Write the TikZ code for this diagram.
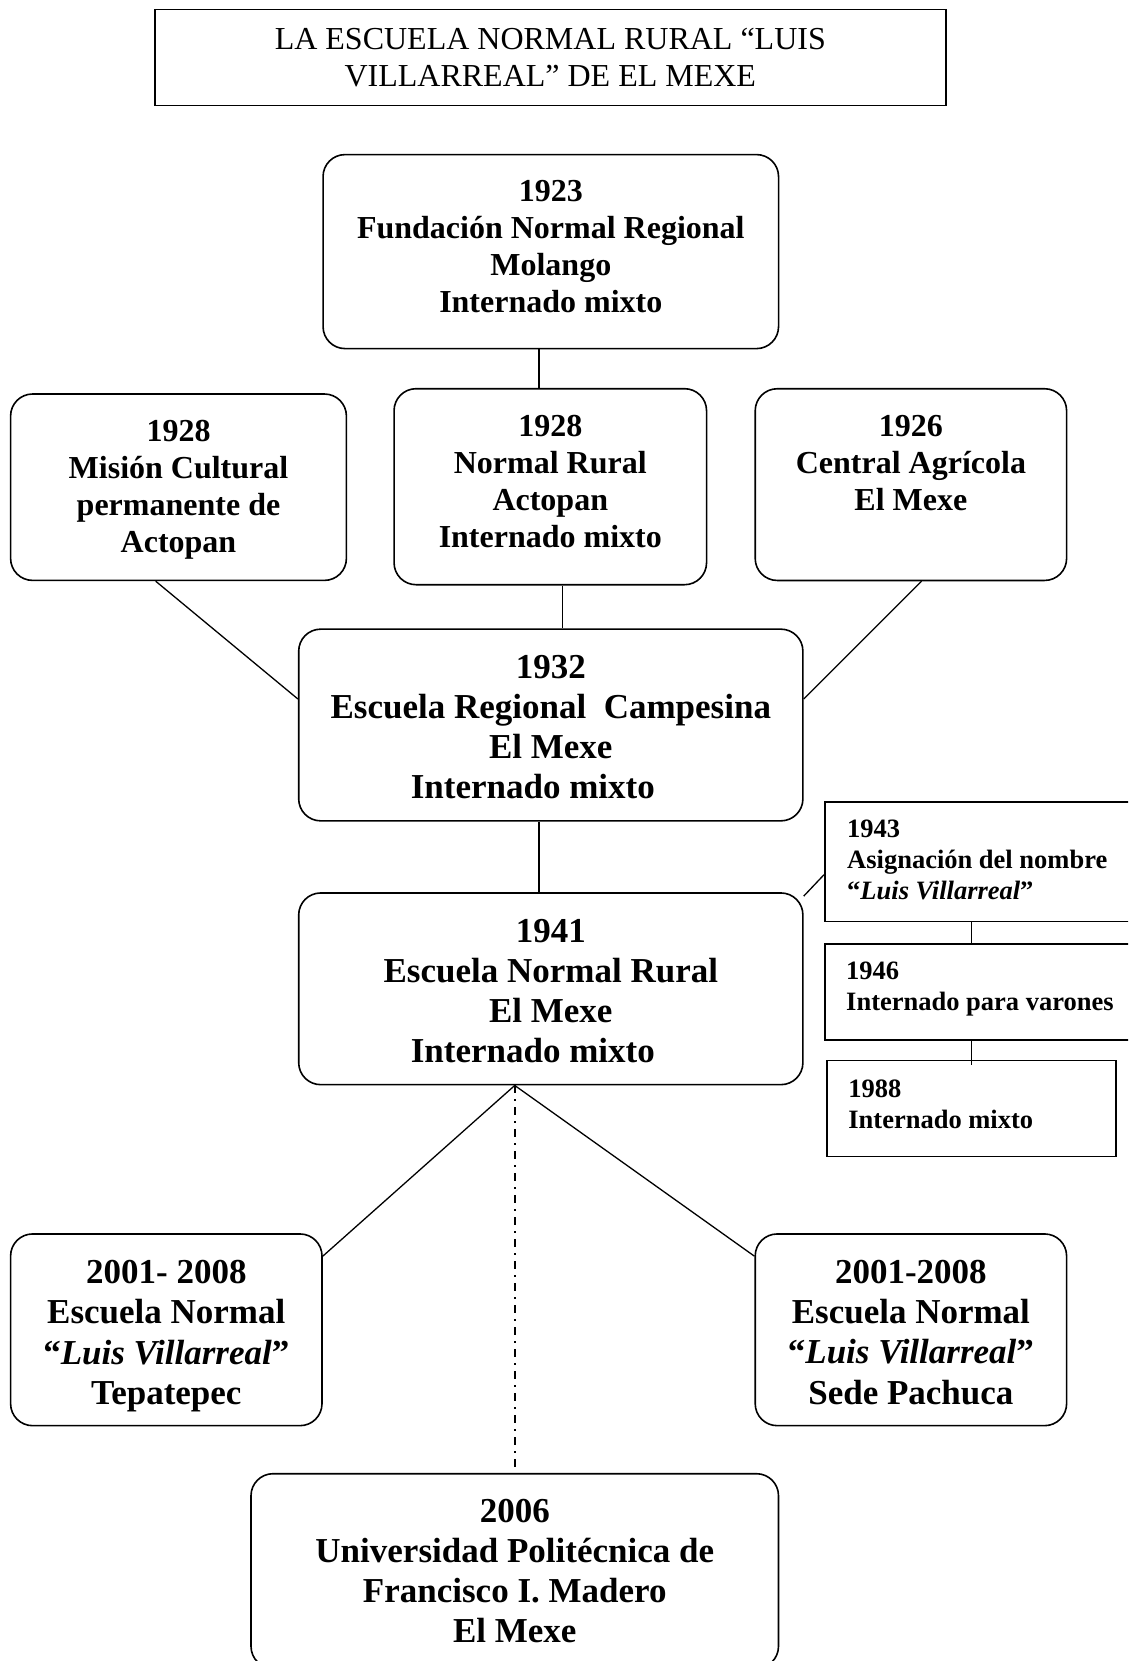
\documentclass[tikz,border=0pt]{standalone}
\usepackage{fontspec}
\setmainfont{Liberation Serif}
\usetikzlibrary{calc}
\newcommand\myfontT{\fontsize{32}{37}\selectfont}
\newcommand\myfontA{\fontsize{32}{37}\selectfont\bfseries}
\newcommand\myfontB{\fontsize{35}{40.2}\selectfont\bfseries}
\newcommand\myfontC{\fontsize{26.5}{31}\selectfont\bfseries}
\begin{document}
\begin{tikzpicture}[x=1pt,y=-1pt,
  rbox/.style={draw, line width=1.6pt, rounded corners=22pt, inner sep=0pt},
  sbox/.style={draw, line width=1.6pt, inner sep=0pt, anchor=west},
  ctext/.style={align=center, inner sep=0pt},
  ltext/.style={align=left, inner sep=0pt, anchor=west, font=\myfontC},
  conn/.style={line width=1.3pt},
  ddot/.style={line width=2pt, dash pattern=on 7.5pt off 6.3pt on 2pt off 6.2pt}]
\path[use as bounding box] (0,0) rectangle (1128,1661);
\clip (0,0) rectangle (1128,1661);
\fill[white] (0,0) rectangle (1128,1661);

\node[draw, line width=1.6pt, minimum width=791pt, minimum height=96pt, align=center, font=\myfontT] (title) at (550.3,57.7) {LA ESCUELA NORMAL RURAL “LUIS\\VILLARREAL” DE EL MEXE};

% boxes
\node[rbox, minimum width=455.5pt, minimum height=194pt] (n1923) at (550.8,251.6) {};
\node[rbox, minimum width=335.8pt, minimum height=186.4pt] (mision) at (178.5,487.2) {};
\node[rbox, minimum width=312.5pt, minimum height=196pt] (nr) at (550.3,486.7) {};
\node[rbox, minimum width=311.4pt, minimum height=191.7pt] (n1926) at (910.9,484.6) {};
\node[rbox, minimum width=504.2pt, minimum height=191.7pt] (n1932) at (550.8,725) {};
\node[rbox, minimum width=504.2pt, minimum height=191.7pt] (n1941) at (550.8,988.8) {};
\node[sbox, minimum width=334pt, minimum height=119.7pt] (n1943) at (824,861.7) {};
\node[sbox, minimum width=342pt, minimum height=96.3pt] (n1946) at (824,992) {};
\node[sbox, minimum width=289pt, minimum height=96.3pt] (n1988) at (826.2,1108.5) {};
\node[rbox, minimum width=311.4pt, minimum height=191.7pt] (tepa) at (166.3,1329.8) {};
\node[rbox, minimum width=311.4pt, minimum height=191.7pt] (pach) at (910.9,1329.8) {};
\node[rbox, minimum width=527.5pt, minimum height=194.6pt] (n2006) at (514.75,1571) {};

% texts
\node[ctext, font=\myfontA] (t1923) at ([yshift=5.3pt]n1923.center) {1923\\Fundación Normal Regional\\Molango\\Internado mixto};
\node[ctext, font=\myfontA] (tmision) at ([yshift=-2.6pt]mision.center) {1928\\Misión Cultural\\permanente de\\Actopan};
\node[ctext, font=\myfontA] (tnr) at ([yshift=5.3pt]nr.center) {1928\\Normal Rural\\Actopan\\Internado mixto};
\node[ctext, font=\myfontA] (t1926) at ([yshift=3.2pt]n1926.center) {1926\\Central Agrícola\\El Mexe\\\mbox{}};
\node[ctext, font=\myfontB] (t1932) at ([yshift=-2.1pt]n1932.center) {1932\\Escuela Regional\ \ Campesina\\El Mexe\\Internado mixto\hspace*{36pt}};
\node[ctext, font=\myfontB] (t1941) at ([yshift=-2.1pt]n1941.center) {1941\\Escuela Normal Rural\\El Mexe\\Internado mixto\hspace*{36pt}};
\node[ltext] (t1943) at ([xshift=23pt, yshift=2.1pt]n1943.west) {1943\\Asignación del nombre\\“\textit{Luis Villarreal}”};
\node[ltext] (t1946) at ([xshift=22pt, yshift=2.7pt]n1946.west) {1946\\Internado para varones};
\node[ltext] (t1988) at ([xshift=22pt, yshift=4.2pt]n1988.west) {1988\\Internado mixto};
\node[ctext, font=\myfontB] (ttepa) at ([yshift=-6.3pt]tepa.center) {2001- 2008\\Escuela Normal\\“\textit{Luis Villarreal}”\\Tepatepec};
\node[ctext, font=\myfontB] (tpach) at ([yshift=-2.5pt]pach.center) {2001-2008\\Escuela Normal\\“\textit{Luis Villarreal}”\\Sede Pachuca};
\node[ctext, font=\myfontB] (t2006) at (n2006.center) {2006\\Universidad Politécnica de\\Francisco I. Madero\\El Mexe};

% connectors
\draw[conn] ([xshift=-11.8pt]n1923.south) -- ([xshift=-11.8pt]n1923.south |- nr.north);
\draw[conn] ([xshift=12pt]nr.south) -- ([xshift=12pt]nr.south |- n1932.north);
\draw[conn] ([xshift=-22.8pt]mision.south) -- ($(n1932.west)+(0,-26)$);
\draw[conn] ([xshift=10.6pt]n1926.south) -- ($(n1932.east)+(0,-26)$);
\draw[conn] ([xshift=-11.8pt]n1932.south) -- ([xshift=-11.8pt]n1932.south |- n1941.north);
\draw[conn] ($(n1941.north east)+(0,4)$) -- ($(n1943.west)+(0,13)$);
\draw[conn] (n1988.north |- n1943.south) -- (n1988.north |- n1946.north);
\draw[conn] (n1988.north |- n1946.south) -- ($(n1988.north)+(0,5)$);
\coordinate (apex) at (n2006.north |- n1941.south);
\draw[conn] (apex) -- ($(tepa.north east)+(0,23)$);
\draw[conn] (apex) -- ($(pach.north west)+(0,23)$);
\draw[ddot] (apex) -- (n2006.north);
\end{tikzpicture}
\end{document}
